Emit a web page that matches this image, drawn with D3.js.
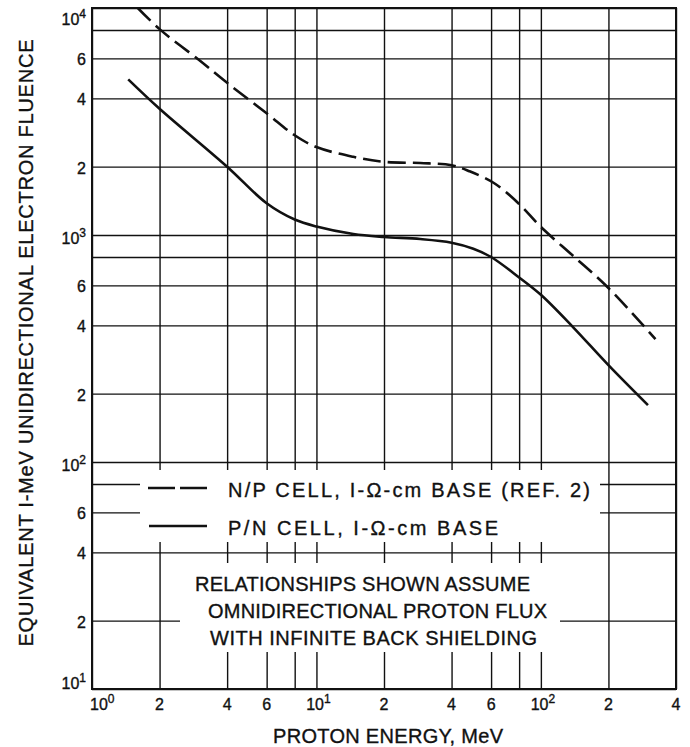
<!DOCTYPE html>
<html>
<head>
<meta charset="utf-8">
<script src="https://cdn.jsdelivr.net/npm/d3@7"></script>
<style>
  body { margin: 0; background: #fff; }
  text { font-family: "Liberation Sans", Arial, sans-serif; fill: #111; stroke: #111; stroke-width: 0.35px; }
</style>
</head>
<body>
<svg id="chart"></svg>
<script>
// grid values (log-log paper)
const xGridValues = [1, 2, 4, 6, 8, 10, 20, 40, 60, 80, 100, 200, 400];
const yGridValues = [10, 20, 40, 60, 80, 100, 200, 400, 600, 800, 1000, 2000, 4000, 6000, 8000, 10000];

// tick labels, "^" marks an exponent
const xTickValues = [1, 2, 4, 6, 10, 20, 40, 60, 100, 200, 400];
const xTickText = ["10^0", "2", "4", "6", "10^1", "2", "4", "6", "10^2", "2", "4"];
const yTickValues = [10, 20, 40, 60, 100, 200, 400, 600, 1000, 2000, 4000, 6000, 10000];
const yTickText = ["10^1", "2", "4", "6", "10^2", "2", "4", "6", "10^3", "2", "4", "6", "10^4"];

// N/P cell (dashed)
const npEnergy = [1.6, 2, 3, 4, 6, 8, 10, 14.6, 20, 29, 40, 48, 62, 80, 100, 140, 198, 324];
const npFluence = [10000, 8070, 5900, 4680, 3440, 2750, 2440, 2210, 2100, 2075, 2030, 1910, 1690, 1370, 1085, 805, 590, 348];

// P/N cell (solid)
const pnEnergy = [1.45, 2, 4, 6, 8, 10, 14.6, 20, 29, 40, 50, 60, 80, 100, 139, 200, 300];
const pnFluence = [4850, 3600, 2000, 1380, 1170, 1090, 1010, 980, 960, 925, 870, 800, 650, 545, 393, 267, 178];

const legendLabels = ["N/P CELL, I-\u03A9-cm BASE (REF. 2)", "P/N CELL, I-\u03A9-cm BASE"];
const noteLines = ["RELATIONSHIPS SHOWN ASSUME", "OMNIDIRECTIONAL PROTON FLUX", "WITH INFINITE BACK SHIELDING"];
const xLabel = "PROTON ENERGY, MeV";
const yLabel = "EQUIVALENT I-MeV UNIDIRECTIONAL ELECTRON FLUENCE";

const width = 690;
const height = 747;
const margin = { top: 8, right: 14, bottom: 58, left: 92 };
const ink = "#111";

const svg = d3.select("#chart").attr("width", width).attr("height", height);

const x = d3.scaleLog().domain([1, 400]).range([margin.left, width - margin.right]);
const y = d3.scaleLog().domain([10, 10000]).range([height - margin.bottom, margin.top]);
const plotW = width - margin.right - margin.left;
const plotH = height - margin.bottom - margin.top;

// grid lines
svg.append("g")
  .attr("class", "xGrid")
  .attr("transform", `translate(0,${height - margin.bottom})`)
  .call(d3.axisBottom(x).tickValues(xGridValues).tickSize(-plotH).tickFormat(""))
  .call((g) => g.select(".domain").remove())
  .selectAll("line").attr("stroke", ink).attr("stroke-width", 1.4);

svg.append("g")
  .attr("class", "yGrid")
  .attr("transform", `translate(${margin.left},0)`)
  .call(d3.axisLeft(y).tickValues(yGridValues).tickSize(-plotW).tickFormat(""))
  .call((g) => g.select(".domain").remove())
  .selectAll("line").attr("stroke", ink).attr("stroke-width", 1.4);

// white areas behind the legend and the note
svg.append("rect").attr("x", 140).attr("y", 470).attr("width", 460).attr("height", 72).attr("fill", "#fff");
svg.append("rect").attr("x", 180).attr("y", 563).attr("width", 380).attr("height", 89).attr("fill", "#fff");

// frame
svg.append("rect")
  .attr("x", margin.left).attr("y", margin.top)
  .attr("width", plotW).attr("height", plotH)
  .attr("fill", "none").attr("stroke", ink).attr("stroke-width", 2);

// curves
svg.append("clipPath").attr("id", "plotClip")
  .append("rect").attr("x", margin.left).attr("y", margin.top).attr("width", plotW).attr("height", plotH);

const line = d3.line()
  .x((d) => x(d[0]))
  .y((d) => y(d[1]))
  .curve(d3.curveCatmullRom.alpha(0.5));

svg.append("path")
  .datum(npEnergy.map((e, i) => [e, npFluence[i]]))
  .attr("clip-path", "url(#plotClip)")
  .attr("d", line)
  .attr("fill", "none").attr("stroke", ink).attr("stroke-width", 2.6)
  .attr("stroke-dasharray", "18,7");

svg.append("path")
  .datum(pnEnergy.map((e, i) => [e, pnFluence[i]]))
  .attr("clip-path", "url(#plotClip)")
  .attr("d", line)
  .attr("fill", "none").attr("stroke", ink).attr("stroke-width", 2.6);

// tick labels with superscripts
const writeLabel = (sel, txt, big, small, rise) => {
  const parts = txt.split("^");
  sel.append("tspan").attr("font-size", big).text(parts[0]);
  if (parts[1]) sel.append("tspan").attr("font-size", small).attr("dy", -rise).text(parts[1]);
};

const xAxis = svg.append("g").attr("class", "xAxis");
xTickValues.forEach((v, i) => {
  const t = xAxis.append("text")
    .attr("x", i === 0 ? x(v) - 2 : x(v) + (xTickText[i].includes("^") ? 2 : 0))
    .attr("y", 710)
    .attr("text-anchor", i === 0 ? "start" : "middle");
  writeLabel(t, xTickText[i], 16, 12, 7);
});

const yAxis = svg.append("g").attr("class", "yAxis");
yTickValues.forEach((v, i) => {
  const isExp = yTickText[i].includes("^");
  const base = isExp ? Math.min(Math.max(y(v) + 9, 25), 689) : y(v) + 7;
  const t = yAxis.append("text")
    .attr("x", 86)
    .attr("y", base)
    .attr("text-anchor", "end");
  writeLabel(t, yTickText[i], 16, 12, 7);
});

// legend
svg.append("line").attr("x1", 148).attr("x2", 207).attr("y1", 488).attr("y2", 488)
  .attr("stroke", ink).attr("stroke-width", 2.6).attr("stroke-dasharray", "27,5");
svg.append("line").attr("x1", 149).attr("x2", 207).attr("y1", 526).attr("y2", 526)
  .attr("stroke", ink).attr("stroke-width", 2.6);

svg.append("text").attr("x", 228).attr("y", 497).attr("font-size", 20)
  .attr("textLength", 362).attr("lengthAdjust", "spacing").text(legendLabels[0]);
svg.append("text").attr("x", 228).attr("y", 535).attr("font-size", 20)
  .attr("textLength", 270).attr("lengthAdjust", "spacing").text(legendLabels[1]);

// note
const noteX = [195, 208, 210];
const noteLen = [335, 339, 327];
noteLines.forEach((s, i) => {
  svg.append("text")
    .attr("x", noteX[i]).attr("y", 591 + i * 27)
    .attr("font-size", 20)
    .attr("textLength", noteLen[i]).attr("lengthAdjust", "spacing")
    .text(s);
});

// axis titles
svg.append("text")
  .attr("class", "xAxisLabel")
  .attr("x", 388).attr("y", 743)
  .attr("text-anchor", "middle")
  .attr("font-size", 20)
  .attr("textLength", 230).attr("lengthAdjust", "spacing")
  .text(xLabel);

svg.append("text")
  .attr("class", "yAxisLabel")
  .attr("transform", "translate(33,343) rotate(-90)")
  .attr("text-anchor", "middle")
  .attr("font-size", 20)
  .attr("textLength", 607).attr("lengthAdjust", "spacing")
  .text(yLabel);
</script>
</body>
</html>
